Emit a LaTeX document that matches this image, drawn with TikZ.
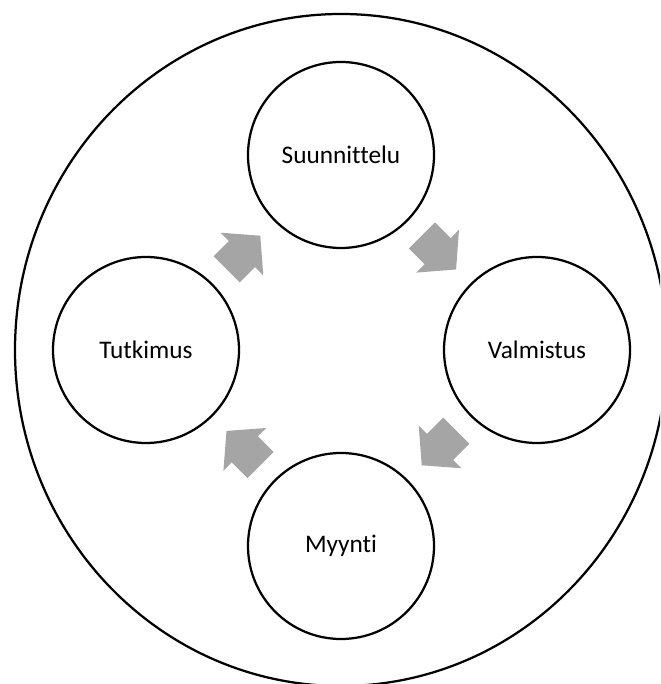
\documentclass[tikz,border=0pt]{standalone}
\usepackage{fontspec}
\setmainfont{Carlito}[Ligatures={NoCommon}]
\usetikzlibrary{positioning,shapes.geometric,arrows.meta}
\definecolor{flowgray}{HTML}{A5A5A5}
\tikzset{
  phase/.style={draw, circle, line width=1.6pt, minimum size=4.65cm, inner sep=0pt, font=\fontsize{18}{22}\selectfont},
  flow/.style={draw=flowgray, line width=0.925cm, shorten <=0.5cm, shorten >=0.5cm,
    -{Triangle[length=0.65cm, width=1.475cm, fill=flowgray]}}
}
\begin{document}
\begin{tikzpicture}
    \useasboundingbox (0,0) rectangle (16.5,17.1);
    \clip (0,0) rectangle (16.5,17.1);

    % Outer cycle
    \node[draw, ellipse, line width=1.6pt, minimum width=16.3cm, minimum height=16.8cm] (cycle) at (8.525,8.35) {};

    % Phases
    \node[phase] at ([yshift=4.875cm]cycle.center) (suu) {Suunnittelu};
    \node[phase] at ([xshift=4.9cm]cycle.center) (val) {Valmistus};
    \node[phase] at ([yshift=-4.9cm]cycle.center) (myy) {Myynti};
    \node[phase] at ([xshift=-4.875cm]cycle.center) (tut) {Tutkimus};

    % Flow arrows
    \draw[flow] (tut) -- (suu);
    \draw[flow] (suu) -- (val);
    \draw[flow] (val) -- (myy);
    \draw[flow] (myy) -- (tut);
\end{tikzpicture}
\end{document}
